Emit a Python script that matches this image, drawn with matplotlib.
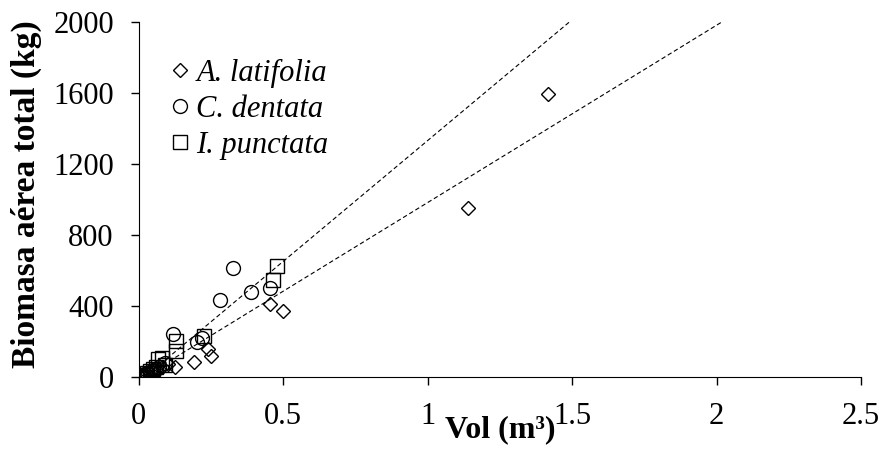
import numpy as np
import matplotlib
matplotlib.use('Agg')
import matplotlib.pyplot as plt

# volume (m3) and total above-ground biomass (kg) per tree
lat_vol = [0.005, 0.01, 0.015, 0.02, 0.03, 0.04, 0.05, 0.06, 0.08, 0.10, 0.125, 0.19, 0.24, 0.25, 0.455, 0.50, 1.14, 1.415]
lat_bio = [3, 6, 10, 14, 22, 30, 38, 45, 60, 75, 55, 85, 160, 120, 410, 370, 950, 1595]

den_vol = [0.005, 0.01, 0.015, 0.02, 0.03, 0.04, 0.05, 0.06, 0.07, 0.09, 0.12, 0.20, 0.22, 0.28, 0.325, 0.39, 0.455]
den_bio = [5, 8, 12, 18, 25, 32, 40, 48, 60, 80, 245, 200, 220, 435, 615, 480, 500]

pun_vol = [0.005, 0.01, 0.02, 0.03, 0.04, 0.05, 0.06, 0.065, 0.08, 0.09, 0.13, 0.13, 0.225, 0.465, 0.48]
pun_bio = [5, 10, 15, 25, 35, 45, 60, 100, 110, 70, 150, 205, 230, 545, 625]

# fitted trend lines: biomass = slope * vol + intercept
fit_slopes = [1360, 998]
fit_intercepts = [-28, -15]

plt.rcParams['font.family'] = ['Liberation Serif', 'DejaVu Serif']

fig = plt.figure(figsize=(8.84, 4.55), dpi=100)
ax = fig.add_axes([0.157, 0.171, 0.817, 0.781])

for slope, icpt in zip(fit_slopes, fit_intercepts):
    xs = np.array([0.02, 2.2])
    ax.plot(xs, slope * xs + icpt, color='black', lw=0.8, ls=(0, (4, 2.5)), zorder=1)

mk = dict(linestyle='none', markerfacecolor='none', markeredgecolor='black', markeredgewidth=1.0)
ax.plot(lat_vol, lat_bio, marker='D', markersize=7, label='A. latifolia', **mk)
ax.plot(den_vol, den_bio, marker='o', markersize=10, label='C. dentata', **mk)
ax.plot(pun_vol, pun_bio, marker='s', markersize=10, label='I. punctata', **mk)

ax.set_xlim(0, 2.5)
ax.set_ylim(0, 2000)
ax.set_xticks([0, 0.5, 1, 1.5, 2, 2.5])
ax.set_xticklabels(['0', '0.5', '1', '1.5', '2', '2.5'])
ax.set_yticks([0, 400, 800, 1200, 1600, 2000])
ax.tick_params(direction='out', length=6, width=1, labelsize=22, pad=12)
for s in ['top', 'right']:
    ax.spines[s].set_visible(False)

ax.set_xlabel('Vol (m³)', fontsize=23, fontweight='bold')
ax.xaxis.set_label_coords(0.501, -0.107)
ax.set_ylabel('Biomasa aérea total (kg)', fontsize=24, fontweight='bold')
ax.yaxis.set_label_coords(-0.134, 0.515)

leg = ax.legend(loc='upper left', bbox_to_anchor=(0.046, 0.895), frameon=False,
                prop={'style': 'italic', 'size': 22}, handlelength=0.5,
                handletextpad=0.3, labelspacing=0.22, markerscale=1.0,
                borderaxespad=0, borderpad=0)

fig.savefig('out.png', dpi=100)
